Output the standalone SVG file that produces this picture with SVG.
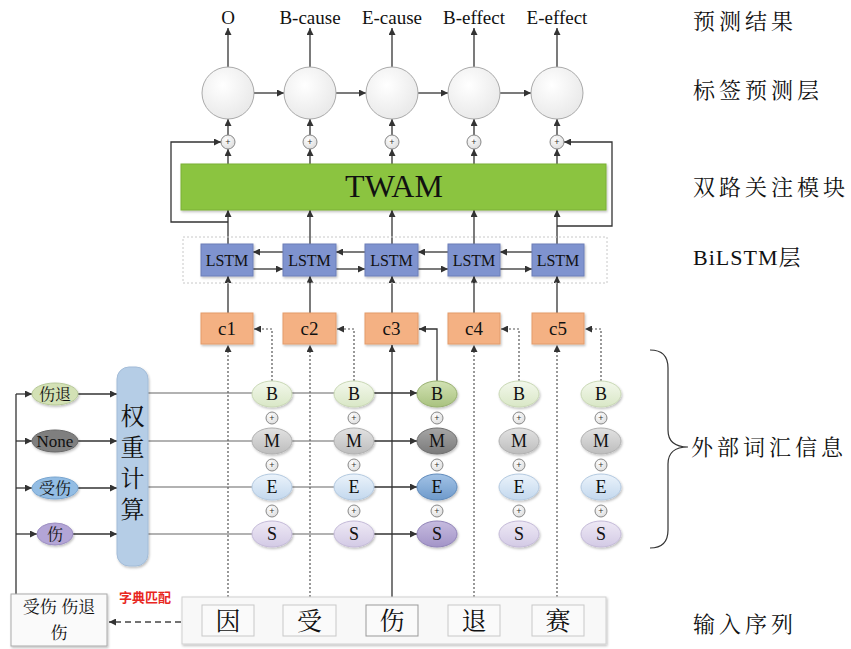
<svg xmlns="http://www.w3.org/2000/svg" width="851" height="649" viewBox="0 0 851 649">
<defs>
<style>
.ln{stroke:#333;stroke-width:1.3;fill:none}
.dot{stroke:#555;stroke-width:1.2;fill:none;stroke-dasharray:2,2}
.gl{stroke:#666;stroke-width:1.2;fill:none}
.ser{font-family:"Liberation Serif","Times New Roman",serif;fill:#111;text-anchor:middle}
.cjk{font-family:"Noto Serif CJK SC","Noto Sans CJK SC",serif;fill:#111;text-anchor:middle}
.lab{font-family:"Noto Serif CJK SC","Noto Sans CJK SC",serif;fill:#111;font-size:22px;letter-spacing:4px}
.circ{fill:url(#gc);stroke:#aaa;stroke-width:1}
.plus{fill:url(#gp);stroke:#888;stroke-width:1}
.lstm{fill:#7f93cf;stroke:#6d7fb8;stroke-width:1}
.cbox{fill:#f4b183;stroke:#e39b6a;stroke-width:1}
.chr{fill:#fafafa;stroke:#c8c8c8;stroke-width:1}
</style>
<marker id="ah" viewBox="0 0 10 10" refX="10" refY="5" markerWidth="9" markerHeight="7" orient="auto" markerUnits="userSpaceOnUse"><path d="M0,0 L10,5 L0,10 z" fill="#333"/></marker>
<radialGradient id="gc" cx="40%" cy="35%" r="70%"><stop offset="0" stop-color="#ffffff"/><stop offset="1" stop-color="#e8e8e8"/></radialGradient>
<radialGradient id="gp" cx="40%" cy="35%" r="70%"><stop offset="0" stop-color="#ffffff"/><stop offset="1" stop-color="#dcdcdc"/></radialGradient>
<linearGradient id="gB" x1="0" y1="0" x2="0" y2="1"><stop offset="0" stop-color="#f3f8ec"/><stop offset="1" stop-color="#d9e7c6"/></linearGradient>
<linearGradient id="gB3" x1="0" y1="0" x2="0" y2="1"><stop offset="0" stop-color="#d2e2b4"/><stop offset="1" stop-color="#a9c27f"/></linearGradient>
<linearGradient id="gM" x1="0" y1="0" x2="0" y2="1"><stop offset="0" stop-color="#e2e2e2"/><stop offset="1" stop-color="#bdbdbd"/></linearGradient>
<linearGradient id="gM3" x1="0" y1="0" x2="0" y2="1"><stop offset="0" stop-color="#a6a6a6"/><stop offset="1" stop-color="#7a7a7a"/></linearGradient>
<linearGradient id="gE" x1="0" y1="0" x2="0" y2="1"><stop offset="0" stop-color="#ebf3fb"/><stop offset="1" stop-color="#c3d8ee"/></linearGradient>
<linearGradient id="gE3" x1="0" y1="0" x2="0" y2="1"><stop offset="0" stop-color="#a3c3e6"/><stop offset="1" stop-color="#6e9acb"/></linearGradient>
<linearGradient id="gS" x1="0" y1="0" x2="0" y2="1"><stop offset="0" stop-color="#eee9f5"/><stop offset="1" stop-color="#d3cae5"/></linearGradient>
<linearGradient id="gS3" x1="0" y1="0" x2="0" y2="1"><stop offset="0" stop-color="#c6bbdf"/><stop offset="1" stop-color="#a394c8"/></linearGradient>
<filter id="sh" x="-10%" y="-10%" width="130%" height="140%"><feDropShadow dx="1" dy="1.5" stdDeviation="1" flood-color="#000" flood-opacity="0.25"/></filter>
</defs>
<rect width="851" height="649" fill="#fff"/>

<g id="connectors">
<line class="ln" x1="228" y1="67" x2="228" y2="28" marker-end="url(#ah)"/>
<line class="ln" x1="310" y1="67" x2="310" y2="28" marker-end="url(#ah)"/>
<line class="ln" x1="392" y1="67" x2="392" y2="28" marker-end="url(#ah)"/>
<line class="ln" x1="474" y1="67" x2="474" y2="28" marker-end="url(#ah)"/>
<line class="ln" x1="557" y1="67" x2="557" y2="28" marker-end="url(#ah)"/>
<line class="ln" x1="254" y1="93" x2="284" y2="93" marker-end="url(#ah)"/>
<line class="ln" x1="336" y1="93" x2="366" y2="93" marker-end="url(#ah)"/>
<line class="ln" x1="418" y1="93" x2="448" y2="93" marker-end="url(#ah)"/>
<line class="ln" x1="500" y1="93" x2="531" y2="93" marker-end="url(#ah)"/>
<line class="ln" x1="228" y1="135" x2="228" y2="119" marker-end="url(#ah)"/>
<line class="ln" x1="310" y1="135" x2="310" y2="119" marker-end="url(#ah)"/>
<line class="ln" x1="392" y1="135" x2="392" y2="119" marker-end="url(#ah)"/>
<line class="ln" x1="474" y1="135" x2="474" y2="119" marker-end="url(#ah)"/>
<line class="ln" x1="557" y1="135" x2="557" y2="119" marker-end="url(#ah)"/>
<line class="ln" x1="228" y1="164" x2="228" y2="149" marker-end="url(#ah)"/>
<line class="ln" x1="310" y1="164" x2="310" y2="149" marker-end="url(#ah)"/>
<line class="ln" x1="392" y1="164" x2="392" y2="149" marker-end="url(#ah)"/>
<line class="ln" x1="474" y1="164" x2="474" y2="149" marker-end="url(#ah)"/>
<line class="ln" x1="557" y1="164" x2="557" y2="149" marker-end="url(#ah)"/>
<line class="ln" x1="228" y1="244" x2="228" y2="210" marker-end="url(#ah)"/>
<line class="ln" x1="310" y1="244" x2="310" y2="210" marker-end="url(#ah)"/>
<line class="ln" x1="392" y1="244" x2="392" y2="210" marker-end="url(#ah)"/>
<line class="ln" x1="474" y1="244" x2="474" y2="210" marker-end="url(#ah)"/>
<line class="ln" x1="557" y1="244" x2="557" y2="210" marker-end="url(#ah)"/>
<polyline class="ln" points="228,222 171,222 171,142 221,142" marker-end="url(#ah)"/>
<polyline class="ln" points="557,226 612,226 612,142 564,142" marker-end="url(#ah)"/>
<line class="ln" x1="283" y1="252" x2="253" y2="252" marker-end="url(#ah)"/>
<line class="ln" x1="365" y1="252" x2="336" y2="252" marker-end="url(#ah)"/>
<line class="ln" x1="448" y1="252" x2="418" y2="252" marker-end="url(#ah)"/>
<line class="ln" x1="532" y1="252" x2="500" y2="252" marker-end="url(#ah)"/>
<line class="ln" x1="253" y1="269" x2="283" y2="269" marker-end="url(#ah)"/>
<line class="ln" x1="336" y1="269" x2="365" y2="269" marker-end="url(#ah)"/>
<line class="ln" x1="418" y1="269" x2="448" y2="269" marker-end="url(#ah)"/>
<line class="ln" x1="500" y1="269" x2="532" y2="269" marker-end="url(#ah)"/>
<line class="ln" x1="228" y1="313" x2="228" y2="276" marker-end="url(#ah)"/>
<line class="ln" x1="310" y1="313" x2="310" y2="276" marker-end="url(#ah)"/>
<line class="ln" x1="392" y1="313" x2="392" y2="276" marker-end="url(#ah)"/>
<line class="ln" x1="474" y1="313" x2="474" y2="276" marker-end="url(#ah)"/>
<line class="ln" x1="557" y1="313" x2="557" y2="276" marker-end="url(#ah)"/>
<line class="dot" x1="228" y1="605" x2="228" y2="345" marker-end="url(#ah)"/>
<line class="dot" x1="310" y1="605" x2="310" y2="345" marker-end="url(#ah)"/>
<line class="ln" x1="392" y1="605" x2="392" y2="345" marker-end="url(#ah)"/>
<line class="dot" x1="474" y1="605" x2="474" y2="345" marker-end="url(#ah)"/>
<line class="dot" x1="557" y1="605" x2="557" y2="345" marker-end="url(#ah)"/>
<polyline class="dot" points="272,381 272,329 254,329" marker-end="url(#ah)"/>
<polyline class="dot" points="354,381 354,329 337,329" marker-end="url(#ah)"/>
<polyline class="ln" points="437,381 437,329 419,329" marker-end="url(#ah)"/>
<polyline class="dot" points="519,381 519,329 501,329" marker-end="url(#ah)"/>
<polyline class="dot" points="601,381 601,329 585,329" marker-end="url(#ah)"/>
<line class="gl" x1="148" y1="393" x2="374" y2="393"/>
<line class="ln" x1="374" y1="393" x2="417" y2="393" marker-end="url(#ah)"/>
<line class="gl" x1="148" y1="441" x2="374" y2="441"/>
<line class="ln" x1="374" y1="441" x2="417" y2="441" marker-end="url(#ah)"/>
<line class="gl" x1="148" y1="487" x2="374" y2="487"/>
<line class="ln" x1="374" y1="487" x2="417" y2="487" marker-end="url(#ah)"/>
<line class="gl" x1="148" y1="534" x2="374" y2="534"/>
<line class="ln" x1="374" y1="534" x2="417" y2="534" marker-end="url(#ah)"/>
<line class="ln" x1="78" y1="394" x2="117" y2="394" marker-end="url(#ah)"/>
<line class="ln" x1="78" y1="441" x2="117" y2="441" marker-end="url(#ah)"/>
<line class="ln" x1="78" y1="488" x2="117" y2="488" marker-end="url(#ah)"/>
<line class="ln" x1="72" y1="534" x2="117" y2="534" marker-end="url(#ah)"/>
<line class="ln" x1="16" y1="594" x2="16" y2="394"/>
<line class="ln" x1="16" y1="394" x2="32" y2="394" marker-end="url(#ah)"/>
<line class="ln" x1="16" y1="441" x2="32" y2="441" marker-end="url(#ah)"/>
<line class="ln" x1="16" y1="488" x2="32" y2="488" marker-end="url(#ah)"/>
<line class="ln" x1="16" y1="534" x2="37" y2="534" marker-end="url(#ah)"/>
<line x1="181" y1="622" x2="109" y2="622" stroke="#444" stroke-width="1.3" stroke-dasharray="6,4" marker-end="url(#ah)"/>
</g>

<g id="outputs">
<text class="ser" x="228" y="24" font-size="19">O</text>
<text class="ser" x="310" y="24" font-size="19">B-cause</text>
<text class="ser" x="392" y="24" font-size="19">E-cause</text>
<text class="ser" x="474" y="24" font-size="19">B-effect</text>
<text class="ser" x="557" y="24" font-size="19">E-effect</text>
</g>

<g id="tag-layer">
<circle class="circ" cx="228" cy="93" r="26"/>
<circle class="circ" cx="310" cy="93" r="26"/>
<circle class="circ" cx="392" cy="93" r="26"/>
<circle class="circ" cx="474" cy="93" r="26"/>
<circle class="circ" cx="557" cy="93" r="26"/>
</g>

<g id="plus-top" font-family="Liberation Sans, sans-serif" font-size="9" text-anchor="middle" fill="#333">
<circle class="plus" cx="228" cy="142" r="7"/><text x="228" y="145">+</text>
<circle class="plus" cx="310" cy="142" r="7"/><text x="310" y="145">+</text>
<circle class="plus" cx="392" cy="142" r="7"/><text x="392" y="145">+</text>
<circle class="plus" cx="474" cy="142" r="7"/><text x="474" y="145">+</text>
<circle class="plus" cx="557" cy="142" r="7"/><text x="557" y="145">+</text>
</g>

<g id="twam">
<rect x="181" y="164" width="425" height="46" fill="#8bc440" stroke="#7bb035" stroke-width="1" filter="url(#sh)"/>
<text class="ser" x="394" y="197" font-size="32">TWAM</text>
</g>

<g id="bilstm">
<rect x="183" y="237" width="424" height="46" fill="none" stroke="#c8c8c8" stroke-width="1" stroke-dasharray="2,2"/>
<rect class="lstm" x="201" y="244" width="52" height="32" filter="url(#sh)"/>
<rect class="lstm" x="283" y="244" width="53" height="32" filter="url(#sh)"/>
<rect class="lstm" x="365" y="244" width="53" height="32" filter="url(#sh)"/>
<rect class="lstm" x="448" y="244" width="52" height="32" filter="url(#sh)"/>
<rect class="lstm" x="532" y="244" width="52" height="32" filter="url(#sh)"/>
<text class="ser" x="227" y="266" font-size="16">LSTM</text>
<text class="ser" x="309.5" y="266" font-size="16">LSTM</text>
<text class="ser" x="391.5" y="266" font-size="16">LSTM</text>
<text class="ser" x="474" y="266" font-size="16">LSTM</text>
<text class="ser" x="558" y="266" font-size="16">LSTM</text>
</g>

<g id="char-vectors">
<rect class="cbox" x="201" y="313" width="52" height="31" filter="url(#sh)"/>
<rect class="cbox" x="283" y="313" width="53" height="31" filter="url(#sh)"/>
<rect class="cbox" x="365" y="313" width="53" height="31" filter="url(#sh)"/>
<rect class="cbox" x="448" y="313" width="52" height="31" filter="url(#sh)"/>
<rect class="cbox" x="532" y="313" width="52" height="31" filter="url(#sh)"/>
<text class="ser" x="227" y="335" font-size="19">c1</text>
<text class="ser" x="309.5" y="335" font-size="19">c2</text>
<text class="ser" x="391.5" y="335" font-size="19">c3</text>
<text class="ser" x="474" y="335" font-size="19">c4</text>
<text class="ser" x="558" y="335" font-size="19">c5</text>
</g>

<g id="bmes-1">
<ellipse cx="272" cy="394" rx="20" ry="13" fill="url(#gB)" stroke="#c9d8b5" filter="url(#sh)"/>
<ellipse cx="272" cy="441" rx="20" ry="13" fill="url(#gM)" stroke="#b0b0b0" filter="url(#sh)"/>
<ellipse cx="272" cy="487" rx="20" ry="13" fill="url(#gE)" stroke="#b3c9e0" filter="url(#sh)"/>
<ellipse cx="272" cy="534" rx="20" ry="13" fill="url(#gS)" stroke="#c4bad8" filter="url(#sh)"/>
</g>
<g id="bmes-2">
<ellipse cx="354" cy="394" rx="20" ry="13" fill="url(#gB)" stroke="#c9d8b5" filter="url(#sh)"/>
<ellipse cx="354" cy="441" rx="20" ry="13" fill="url(#gM)" stroke="#b0b0b0" filter="url(#sh)"/>
<ellipse cx="354" cy="487" rx="20" ry="13" fill="url(#gE)" stroke="#b3c9e0" filter="url(#sh)"/>
<ellipse cx="354" cy="534" rx="20" ry="13" fill="url(#gS)" stroke="#c4bad8" filter="url(#sh)"/>
</g>
<g id="bmes-3">
<ellipse cx="437" cy="394" rx="20" ry="13" fill="url(#gB3)" stroke="#98b070" filter="url(#sh)"/>
<ellipse cx="437" cy="441" rx="20" ry="13" fill="url(#gM3)" stroke="#6e6e6e" filter="url(#sh)"/>
<ellipse cx="437" cy="487" rx="20" ry="13" fill="url(#gE3)" stroke="#5f8abb" filter="url(#sh)"/>
<ellipse cx="437" cy="534" rx="20" ry="13" fill="url(#gS3)" stroke="#9184b8" filter="url(#sh)"/>
</g>
<g id="bmes-4">
<ellipse cx="519" cy="394" rx="20" ry="13" fill="url(#gB)" stroke="#c9d8b5" filter="url(#sh)"/>
<ellipse cx="519" cy="441" rx="20" ry="13" fill="url(#gM)" stroke="#b0b0b0" filter="url(#sh)"/>
<ellipse cx="519" cy="487" rx="20" ry="13" fill="url(#gE)" stroke="#b3c9e0" filter="url(#sh)"/>
<ellipse cx="519" cy="534" rx="20" ry="13" fill="url(#gS)" stroke="#c4bad8" filter="url(#sh)"/>
</g>
<g id="bmes-5">
<ellipse cx="601" cy="394" rx="20" ry="13" fill="url(#gB)" stroke="#c9d8b5" filter="url(#sh)"/>
<ellipse cx="601" cy="441" rx="20" ry="13" fill="url(#gM)" stroke="#b0b0b0" filter="url(#sh)"/>
<ellipse cx="601" cy="487" rx="20" ry="13" fill="url(#gE)" stroke="#b3c9e0" filter="url(#sh)"/>
<ellipse cx="601" cy="534" rx="20" ry="13" fill="url(#gS)" stroke="#c4bad8" filter="url(#sh)"/>
</g>
<g id="bmes-text">
<text class="ser" x="272" y="400" font-size="18">B</text><text class="ser" x="272" y="447" font-size="18">M</text><text class="ser" x="272" y="493" font-size="18">E</text><text class="ser" x="272" y="540" font-size="18">S</text>
<text class="ser" x="354" y="400" font-size="18">B</text><text class="ser" x="354" y="447" font-size="18">M</text><text class="ser" x="354" y="493" font-size="18">E</text><text class="ser" x="354" y="540" font-size="18">S</text>
<text class="ser" x="437" y="400" font-size="18">B</text><text class="ser" x="437" y="447" font-size="18">M</text><text class="ser" x="437" y="493" font-size="18">E</text><text class="ser" x="437" y="540" font-size="18">S</text>
<text class="ser" x="519" y="400" font-size="18">B</text><text class="ser" x="519" y="447" font-size="18">M</text><text class="ser" x="519" y="493" font-size="18">E</text><text class="ser" x="519" y="540" font-size="18">S</text>
<text class="ser" x="601" y="400" font-size="18">B</text><text class="ser" x="601" y="447" font-size="18">M</text><text class="ser" x="601" y="493" font-size="18">E</text><text class="ser" x="601" y="540" font-size="18">S</text>
</g>
<g id="bmes-plus" font-family="Liberation Sans, sans-serif" font-size="9" text-anchor="middle" fill="#333">
<circle class="plus" cx="272" cy="418" r="6"/><text x="272" y="421">+</text>
<circle class="plus" cx="272" cy="465" r="6"/><text x="272" y="468">+</text>
<circle class="plus" cx="272" cy="511" r="6"/><text x="272" y="514">+</text>
<circle class="plus" cx="354" cy="418" r="6"/><text x="354" y="421">+</text>
<circle class="plus" cx="354" cy="465" r="6"/><text x="354" y="468">+</text>
<circle class="plus" cx="354" cy="511" r="6"/><text x="354" y="514">+</text>
<circle class="plus" cx="437" cy="418" r="6"/><text x="437" y="421">+</text>
<circle class="plus" cx="437" cy="465" r="6"/><text x="437" y="468">+</text>
<circle class="plus" cx="437" cy="511" r="6"/><text x="437" y="514">+</text>
<circle class="plus" cx="519" cy="418" r="6"/><text x="519" y="421">+</text>
<circle class="plus" cx="519" cy="465" r="6"/><text x="519" y="468">+</text>
<circle class="plus" cx="519" cy="511" r="6"/><text x="519" y="514">+</text>
<circle class="plus" cx="601" cy="418" r="6"/><text x="601" y="421">+</text>
<circle class="plus" cx="601" cy="465" r="6"/><text x="601" y="468">+</text>
<circle class="plus" cx="601" cy="511" r="6"/><text x="601" y="514">+</text>
</g>

<g id="weight">
<rect x="117" y="367" width="31" height="199" rx="12" fill="#b5cde6" stroke="#a3bcd8" filter="url(#sh)"/>
<text x="132.5" y="404" writing-mode="vertical-rl" font-family="Noto Serif CJK SC, Noto Sans CJK SC, serif" font-size="24" letter-spacing="7" fill="#111">权重计算</text>
</g>

<g id="words">
<ellipse cx="55" cy="394" rx="23" ry="11" fill="#d3e1b5" stroke="#b8c99a" filter="url(#sh)"/>
<text class="cjk" x="55" y="400" font-size="16">伤退</text>
<ellipse cx="55" cy="441" rx="23" ry="11" fill="#7f7f7f" stroke="#6a6a6a" filter="url(#sh)"/>
<text class="ser" x="55" y="447" font-size="17">None</text>
<ellipse cx="55" cy="488" rx="23" ry="11" fill="#93bde4" stroke="#7aa6d0" filter="url(#sh)"/>
<text class="cjk" x="55" y="494" font-size="16">受伤</text>
<ellipse cx="55" cy="534" rx="18" ry="11" fill="#b3a5d6" stroke="#9d8fc2" filter="url(#sh)"/>
<text class="cjk" x="55" y="540" font-size="16">伤</text>
</g>

<g id="dict">
<rect x="11" y="594" width="96" height="52" fill="#fafafa" stroke="#aaa" filter="url(#sh)"/>
<text class="cjk" x="59" y="613" font-size="17">受伤 伤退</text>
<text class="cjk" x="59" y="639" font-size="17">伤</text>
<text x="145" y="602" font-family="Noto Sans CJK SC, sans-serif" font-size="13" font-weight="bold" fill="#e8271f" text-anchor="middle">字典匹配</text>
</g>

<g id="input">
<rect x="182" y="597" width="424" height="47" fill="#f8f8f8" stroke="#d0d0d0" filter="url(#sh)"/>
<rect class="chr" x="202" y="605" width="52" height="31"/>
<rect class="chr" x="283" y="605" width="53" height="31"/>
<rect x="366" y="605" width="52" height="31" fill="#fafafa" stroke="#999"/>
<rect class="chr" x="448" y="605" width="52" height="31"/>
<rect class="chr" x="532" y="605" width="52" height="31"/>
<text class="cjk" x="228" y="630" font-size="25">因</text>
<text class="cjk" x="309.5" y="630" font-size="25">受</text>
<text class="cjk" x="392" y="630" font-size="25">伤</text>
<text class="cjk" x="474" y="630" font-size="25">退</text>
<text class="cjk" x="558" y="630" font-size="25">赛</text>
</g>

<g id="side-labels">
<text class="lab" x="693" y="29">预测结果</text>
<text class="lab" x="693" y="98">标签预测层</text>
<text class="lab" x="693" y="195">双路关注模块</text>
<text x="693" y="265" font-family="Liberation Serif, serif" font-size="22" fill="#111" letter-spacing="1">BiLSTM<tspan font-family="Noto Serif CJK SC, Noto Sans CJK SC, serif">层</tspan></text>
<path d="M650,350 Q668,350 668,368 L668,430 Q668,447 688,447 Q668,447 668,464 L668,530 Q668,548 650,548" fill="none" stroke="#333" stroke-width="1.2"/>
<text class="lab" x="691" y="455">外部词汇信息</text>
<text class="lab" x="693" y="632">输入序列</text>
</g>
</svg>
